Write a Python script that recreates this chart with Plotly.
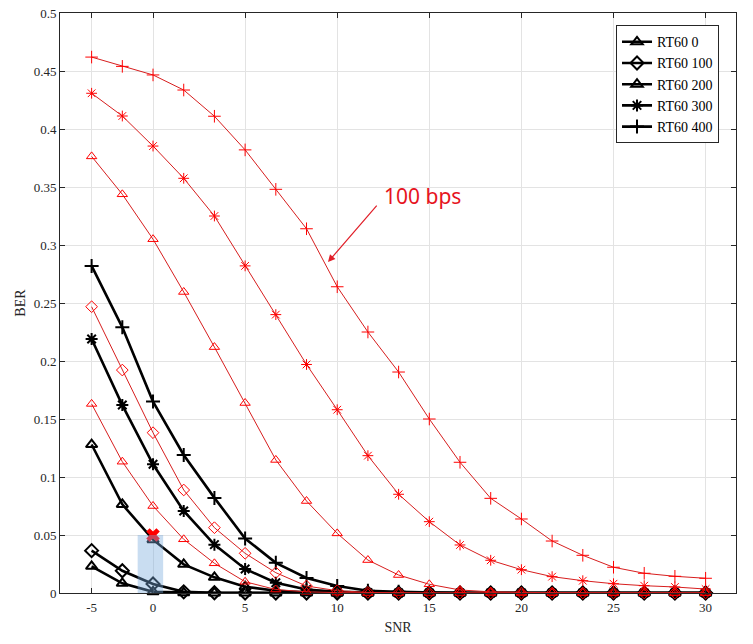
import plotly.graph_objects as go

# ---- data ----
snr = [-5, -2.5, 0, 1.67, 3.33, 5, 6.67, 8.33, 10, 11.67, 13.33, 15, 16.67,
       18.33, 20, 21.67, 23.33, 25, 26.67, 28.33, 30]
snr_ticks = [-5, 0, 5, 10, 15, 20, 25, 30]
ber_ticks = [0, 0.05, 0.1, 0.15, 0.2, 0.25, 0.3, 0.35, 0.4, 0.45, 0.5]
ber_tick_labels = ["0", "0.05", "0.1", "0.15", "0.2", "0.25", "0.3", "0.35", "0.4", "0.45", "0.5"]

legend_names = ["RT60 0", "RT60 100", "RT60 200", "RT60 300", "RT60 400"]

# black (thick) series
rt0_black = [0.023, 0.0083, 0.001, 0.0002, 0, 0, 0, 0, 0, 0, 0, 0, 0, 0, 0, 0, 0, 0, 0, 0, 0]
rt100_black = [0.0365, 0.0192, 0.0078, 0.001, 0.0002, 0, 0, 0, 0, 0, 0, 0, 0, 0, 0, 0, 0, 0, 0, 0, 0]
rt200_black = [0.128, 0.0764, 0.046, 0.0247, 0.0135, 0.0054, 0.002, 0.0005, 0.0001, 0, 0, 0, 0,
               0, 0, 0, 0, 0, 0, 0, 0]
rt300_black = [0.219, 0.162, 0.111, 0.0707, 0.0417, 0.0207, 0.0089, 0.003, 0.001, 0.0003, 0, 0, 0,
               0, 0, 0, 0, 0, 0, 0, 0]
rt400_black = [0.282, 0.229, 0.165, 0.119, 0.082, 0.047, 0.026, 0.013, 0.006, 0.002, 0.001, 0.0003, 0,
               0, 0, 0, 0, 0, 0, 0, 0]

# red (thin, 100 bps) series
rt0_red = [0.163, 0.1132, 0.075, 0.0463, 0.0256, 0.0097, 0.003, 0.001, 0.0003, 0, 0, 0, 0,
           0, 0, 0, 0, 0, 0, 0, 0]
rt100_red = [0.2468, 0.1922, 0.1382, 0.0888, 0.0563, 0.0342, 0.0175, 0.006, 0.002, 0.0005, 0.0001, 0, 0,
             0, 0, 0, 0, 0, 0, 0, 0]
rt200_red = [0.3764, 0.3437, 0.305, 0.2595, 0.212, 0.1638, 0.1147, 0.0793, 0.0514, 0.0284, 0.0155,
             0.0075, 0.0026, 0.001, 0.0004, 0.0002, 0.0001, 0, 0, 0, 0]
rt300_red = [0.4308, 0.4112, 0.3853, 0.3575, 0.325, 0.282, 0.240, 0.197, 0.158, 0.1184, 0.0851,
             0.0615, 0.0414, 0.0282, 0.0201, 0.0141, 0.0106, 0.008, 0.0063, 0.0052, 0.0034]
rt400_red = [0.462, 0.454, 0.4466, 0.4336, 0.411, 0.382, 0.348, 0.314, 0.264, 0.225, 0.1905,
             0.150, 0.1127, 0.0816, 0.0638, 0.0448, 0.0325, 0.0222, 0.017, 0.0144, 0.0127]

highlight_snr = 0
highlight_ber = 0.05
annot_text = "100 bps"

symbols = ["triangle-up-open", "diamond-open", "triangle-up-open", "asterisk-open", "cross-thin-open"]

SERIF = "Liberation Serif, Times New Roman, serif"

# x positions: points are equally spaced on the axis (index positions)
xpos = list(range(len(snr)))
tickvals = [snr.index(v) for v in snr_ticks]

fig = go.Figure()

black_series = [rt0_black, rt100_black, rt200_black, rt300_black, rt400_black]
red_series = [rt0_red, rt100_red, rt200_red, rt300_red, rt400_red]

for name, ys, sym in zip(legend_names, black_series, symbols):
    fig.add_trace(go.Scatter(
        x=xpos, y=ys, name=name, mode="lines+markers", cliponaxis=False,
        line=dict(color="black", width=2.6),
        marker=dict(symbol=sym, size=10, color="black", line=dict(color="black", width=2)),
    ))

for name, ys, sym in zip(legend_names, red_series, symbols):
    fig.add_trace(go.Scatter(
        x=xpos, y=ys, name=name + " (100 bps)", mode="lines+markers", showlegend=False,
        cliponaxis=False,
        line=dict(color="rgb(215,30,30)", width=1),
        marker=dict(symbol=sym, size=9, color="red", line=dict(color="red", width=1)),
    ))

hx = snr.index(highlight_snr)
fig.add_trace(go.Scatter(
    x=[hx], y=[highlight_ber], mode="markers", showlegend=False, cliponaxis=False,
    marker=dict(symbol="x", size=12, color="red", line=dict(width=0)),
))

fig.add_shape(type="rect", xref="x", yref="y", x0=hx - 0.5, x1=hx + 0.33, y0=0, y1=highlight_ber,
              fillcolor="rgba(120,170,220,0.4)", line=dict(width=0), layer="above")

tip_x = 7.7
tip_y = 0.2853
fig.add_annotation(x=tip_x, y=tip_y, xref="x", yref="y", text="", showarrow=True,
                   ax=50, ay=-58, arrowhead=2, arrowsize=1.2, arrowwidth=1.2,
                   arrowcolor="rgb(225,30,40)")
fig.add_annotation(x=10.79, y=0.342, xref="x", yref="y", text=annot_text, showarrow=False,
                   font=dict(family="Noto Sans", size=21, color="rgb(230,20,30)"))

axis_common = dict(
    showline=True, linecolor="#262626", linewidth=1, mirror="ticks",
    ticks="inside", ticklen=5, tickcolor="#262626",
    showgrid=True, gridcolor="#e3e3e3", gridwidth=1, zeroline=False,
    automargin=False,
    tickfont=dict(family=SERIF, size=13, color="#262626"),
)

fig.update_xaxes(range=[-1.03, 20.99], tickvals=tickvals, ticktext=[str(v) for v in snr_ticks],
                 ticklabelstandoff=2,
                 title=dict(text="SNR", font=dict(family=SERIF, size=14, color="#262626"),
                            standoff=8),
                 **axis_common)
fig.update_yaxes(range=[0, 0.5], tickvals=ber_ticks, ticktext=ber_tick_labels,
                 title=dict(text="BER", font=dict(family=SERIF, size=14, color="#262626"),
                            standoff=4),
                 **axis_common)

fig.update_layout(
    width=753, height=644,
    margin=dict(l=60, r=17, t=13, b=51),
    plot_bgcolor="white", paper_bgcolor="white",
    legend=dict(x=0.8225, y=0.979, xanchor="left", yanchor="top",
                bgcolor="white", bordercolor="#262626", borderwidth=1,
                font=dict(family=SERIF, size=14, color="black"),
                tracegroupgap=0, itemwidth=30),
)

fig.write_html("out.html")
